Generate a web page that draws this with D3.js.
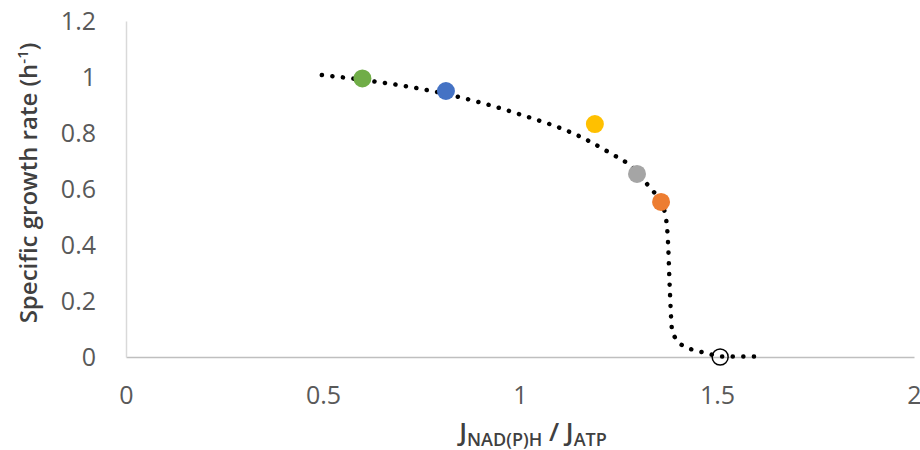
<!DOCTYPE html>
<html>
<head>
<meta charset="utf-8">
<script src="https://cdn.jsdelivr.net/npm/d3@7"></script>
<style>
  body { margin: 0; background: #fff; }
  svg { font-family: "Open Sans", "Liberation Sans", sans-serif; }
</style>
</head>
<body>
<svg id="canvas" width="920" height="450"></svg>
<script>
// ratio J_NAD(P)H / J_ATP vs specific growth rate
let curveX = [0.497, 0.6, 0.81, 0.99, 1.16, 1.228, 1.287, 1.33, 1.358, 1.37, 1.376, 1.38, 1.386, 1.398, 1.419, 1.444, 1.475, 1.51, 1.6];
let curveY = [1.007, 0.99, 0.94, 0.871, 0.782, 0.729, 0.675, 0.604, 0.55, 0.5, 0.4, 0.25, 0.096, 0.061, 0.036, 0.024, 0.013, 0.002, 0.002];

let pointX = [0.6, 0.812, 1.19, 1.297, 1.358];
let pointY = [0.995, 0.95, 0.832, 0.654, 0.554];
let pointColors = ['#70AD47', '#4472C4', '#FFC000', '#A5A5A5', '#ED7D31'];

let openX = [1.508];
let openY = [0];

let xTicks = [0, 0.5, 1, 1.5, 2];
let xTickLabels = ['0', '0.5', '1', '1.5', '2'];
let yTicks = [0, 0.2, 0.4, 0.6, 0.8, 1, 1.2];
let yTickLabels = ['0', '0.2', '0.4', '0.6', '0.8', '1', '1.2'];

let canvas = d3.select('#canvas');

let xScale = d3.scaleLinear().domain([0, 2]).range([126, 914]);
let yScale = d3.scaleLinear().domain([0, 1.2]).range([357, 21]);

// axes, excel style: no tick marks
let xAxis = d3.axisBottom(xScale)
  .tickValues(xTicks)
  .tickFormat((d, i) => xTickLabels[i])
  .tickSize(0)
  .tickPadding(29);
let yAxis = d3.axisLeft(yScale)
  .tickValues(yTicks)
  .tickFormat((d, i) => yTickLabels[i])
  .tickSize(0)
  .tickPadding(30);

let gx = canvas.append('g').attr('transform', 'translate(0,357)').call(xAxis);
let gy = canvas.append('g').attr('transform', 'translate(126,0)').call(yAxis);
gx.select('.domain').attr('stroke', '#BFBFBF').attr('stroke-width', 1.5);
gy.select('.domain').attr('stroke', '#D9D9D9').attr('stroke-width', 1.5);
[gx, gy].forEach((g) => {
  g.attr('font-family', null).attr('font-size', null);
  g.selectAll('text')
    .style('font-size', '25px')
    .style('fill', '#595959');
});

// dotted fit curve
let curveData = curveX.map((x, i) => [x, curveY[i]]);
let line = d3.line()
  .x((d) => xScale(d[0]))
  .y((d) => yScale(d[1]))
  .curve(d3.curveMonotoneX);

canvas.append('path')
  .datum(curveData)
  .attr('d', line)
  .attr('fill', 'none')
  .attr('stroke', '#000')
  .attr('stroke-width', 4.5)
  .attr('stroke-linecap', 'round')
  .attr('stroke-dasharray', '0.1 10.5');

// colored points
canvas.selectAll('circle.pt')
  .data(pointX)
  .enter()
  .append('circle')
  .attr('class', 'pt')
  .attr('cx', (d) => xScale(d))
  .attr('cy', (d, i) => yScale(pointY[i]))
  .attr('r', 9)
  .attr('fill', (d, i) => pointColors[i]);

// open point
canvas.selectAll('circle.open')
  .data(openX)
  .enter()
  .append('circle')
  .attr('class', 'open')
  .attr('cx', (d) => xScale(d))
  .attr('cy', (d, i) => yScale(openY[i]))
  .attr('r', 8)
  .attr('fill', 'none')
  .attr('stroke', '#000')
  .attr('stroke-width', 1.5);

// y title
let yTitle = canvas.append('text')
  .attr('transform', 'translate(37,183) rotate(-90)')
  .attr('text-anchor', 'middle')
  .attr('fill', '#404040')
  .attr('font-size', 24)
  .attr('font-weight', 600);
yTitle.append('tspan').text('Specific growth rate (h');
yTitle.append('tspan').attr('font-size', 15).attr('dy', -9).text('-1');
yTitle.append('tspan').attr('dy', 9).text(')');

// x title
let xTitle = canvas.append('text')
  .attr('x', 533)
  .attr('y', 441)
  .attr('text-anchor', 'middle')
  .attr('fill', '#404040')
  .attr('font-size', 26)
  .attr('font-weight', 600);
xTitle.append('tspan').text('J');
xTitle.append('tspan').attr('font-size', 18).attr('dy', 5).text('NAD(P)H');
xTitle.append('tspan').attr('dy', -5).text(' / J');
xTitle.append('tspan').attr('font-size', 18).attr('dy', 5).text('ATP');
</script>
</body>
</html>
